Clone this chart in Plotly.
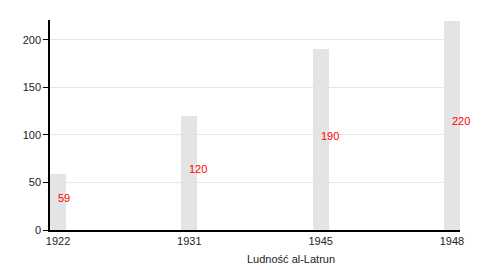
import plotly.graph_objects as go

years = ["1922", "1931", "1945", "1948"]
population = [59, 120, 190, 220]
y_ticks = [0, 50, 100, 150, 200]
axis_title = "Ludność al-Latrun"

FONT = "Liberation Sans, Arial, Helvetica, sans-serif"

fig = go.Figure()
fig.add_trace(go.Bar(
    x=years, y=population, width=0.122,
    marker=dict(color="#e4e4e4", line=dict(width=0)),
    hoverinfo="skip", showlegend=False,
))

annotations = []
for i, v in enumerate(population):
    annotations.append(dict(
        x=i, y=v / 2, xref="x", yref="y", text=str(v),
        xanchor="left", yanchor="middle", yshift=4, xshift=-2,
        showarrow=False, font=dict(color="#ff0000", size=11, family=FONT),
    ))
annotations.append(dict(
    x=(291 - 50) / 410, y=-(259 - 230) / 210, xref="paper", yref="paper",
    text=axis_title, showarrow=False, xanchor="center", yanchor="middle",
    font=dict(color="#222222", size=11, family=FONT),
))

fig.update_layout(
    width=500, height=270,
    margin=dict(l=50, r=40, t=20, b=40),
    plot_bgcolor="white", paper_bgcolor="white",
    font=dict(family=FONT, size=11, color="#222222"),
    annotations=annotations,
    bargap=0,
)
fig.update_xaxes(
    type="category", range=[-0.061, 3.061],
    showline=True, linecolor="black", linewidth=1.5,
    ticks="", showgrid=False, zeroline=False,
    tickfont=dict(size=11, family=FONT, color="#222222"),
)
fig.update_yaxes(
    range=[0, 221], tickvals=y_ticks,
    showline=True, linecolor="black", linewidth=1.5,
    ticks="outside", ticklen=5, tickcolor="black", tickwidth=1,
    showgrid=True, gridcolor="#e6e6e6", gridwidth=1, zeroline=False,
    tickfont=dict(size=11, family=FONT, color="#222222"),
)

fig.write_html("out.html")
